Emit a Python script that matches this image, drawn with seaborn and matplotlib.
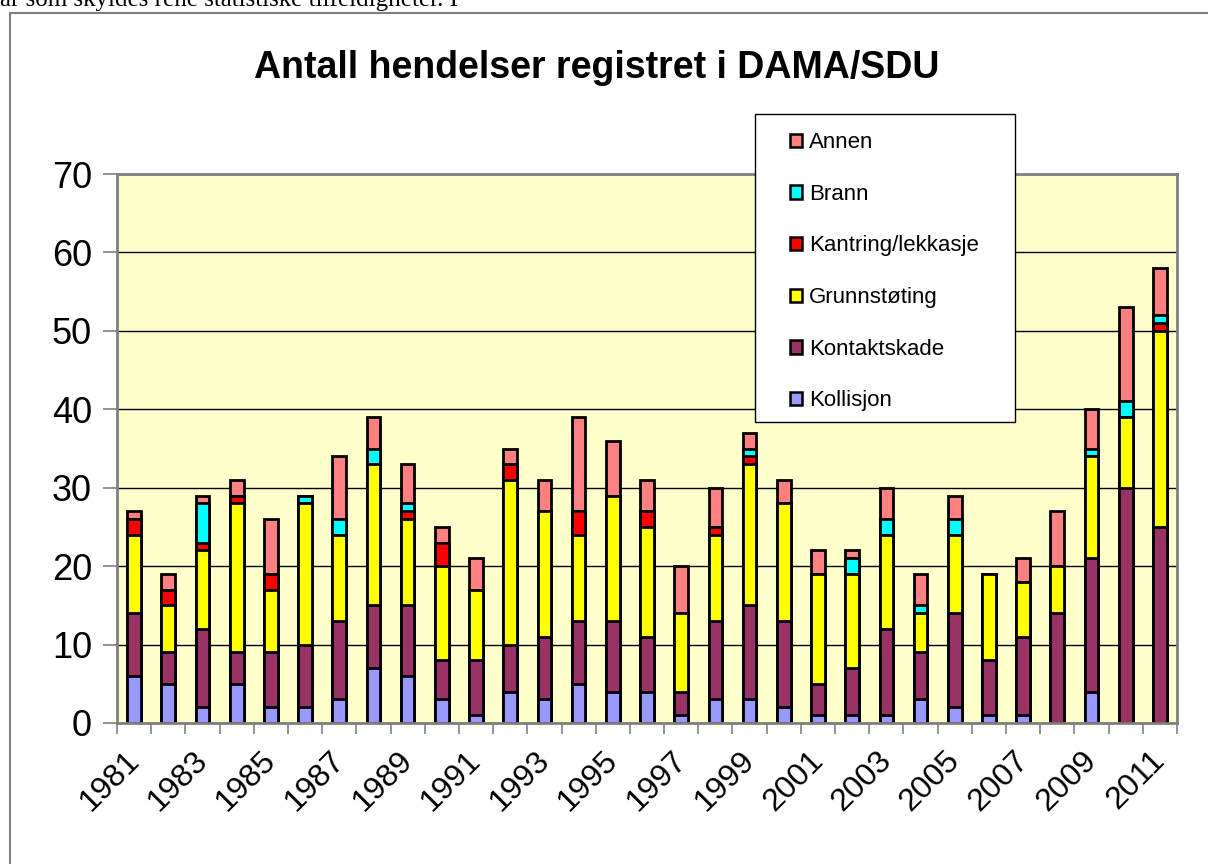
import numpy as np
import pandas as pd
import matplotlib
matplotlib.use("Agg")
import matplotlib.pyplot as plt
from matplotlib.patches import Patch, Rectangle
from matplotlib.transforms import ScaledTranslation
import seaborn as sns

years = [str(y) for y in range(1981, 2012)]

kollisjon = [6, 5, 2, 5, 2, 2, 3, 7, 6, 3, 1, 4, 3, 5, 4, 4, 1, 3, 3, 2, 1, 1, 1, 3, 2, 1, 1, 0, 4, 0, 0]
kontaktskade = [8, 4, 10, 4, 7, 8, 10, 8, 9, 5, 7, 6, 8, 8, 9, 7, 3, 10, 12, 11, 4, 6, 11, 6, 12, 7, 10, 14, 17, 30, 25]
grunnstoting = [10, 6, 10, 19, 8, 18, 11, 18, 11, 12, 9, 21, 16, 11, 16, 14, 10, 11, 18, 15, 14, 12, 12, 5, 10, 11, 7, 6, 13, 9, 25]
kantring = [2, 2, 1, 1, 2, 0, 0, 0, 1, 3, 0, 2, 0, 3, 0, 2, 0, 1, 1, 0, 0, 0, 0, 0, 0, 0, 0, 0, 0, 0, 1]
brann = [0, 0, 5, 0, 0, 1, 2, 2, 1, 0, 0, 0, 0, 0, 0, 0, 0, 0, 1, 0, 0, 2, 2, 1, 2, 0, 0, 0, 1, 2, 1]
annen = [1, 2, 1, 2, 7, 0, 8, 4, 5, 2, 4, 2, 4, 12, 7, 4, 6, 5, 2, 3, 3, 1, 4, 4, 3, 0, 3, 7, 5, 12, 6]

series = ["Kollisjon", "Kontaktskade", "Grunnstøting", "Kantring/lekkasje", "Brann", "Annen"]
colors = ["#9999FF", "#993366", "#FFFF00", "#FF0000", "#00FFFF", "#FF8080"]

df = pd.DataFrame({
    "Kollisjon": kollisjon,
    "Kontaktskade": kontaktskade,
    "Grunnstøting": grunnstoting,
    "Kantring/lekkasje": kantring,
    "Brann": brann,
    "Annen": annen,
}, index=years)
cum = df[series].cumsum(axis=1)

sns.set_style("white")
plt.rcParams["font.family"] = ["Liberation Sans", "DejaVu Sans"]
plt.rcParams["text.color"] = "black"

fig = plt.figure(figsize=(12.08, 8.64), dpi=100)
ax = fig.add_axes([117 / 1208, 1 - 723 / 864, 1060 / 1208, 549 / 864])
ax.set_facecolor("#FFFFCC")

# stacked look: draw cumulative totals from the top layer down
for name, col in zip(series[::-1], colors[::-1]):
    sns.barplot(x=years, y=cum[name].values, color=col, saturation=1, width=0.4,
                edgecolor="black", linewidth=2, errorbar=None, ax=ax)

ax.set_xlim(-0.5, 30.5)
ax.set_ylim(0, 70)
ax.set_yticks(range(0, 71, 10))
ax.set_axisbelow(True)
ax.yaxis.grid(True, color="black", linewidth=1)
ax.xaxis.grid(False)
ax.set_xlabel("")
ax.set_ylabel("")

ax.set_xticks(range(0, 31, 2))
ax.set_xticklabels(years[::2], rotation=45, ha="right", rotation_mode="anchor", fontsize=23)
ax.set_xticks(np.arange(-0.5, 31, 1), minor=True)
ax.tick_params(axis="x", which="major", length=0, pad=16, labelcolor="black")
ax.tick_params(axis="x", which="minor", length=8, width=1.2, color="#808080", direction="out")
ax.tick_params(axis="y", length=10, width=1.2, color="#808080", direction="out", labelsize=26,
               pad=8, labelcolor="black")
ax.tick_params(bottom=True, left=True, which="both")
shift = ScaledTranslation(-10 / 100, 0, fig.dpi_scale_trans)
for lab in ax.get_xticklabels():
    lab.set_transform(lab.get_transform() + shift)

for s in ["left", "bottom", "top", "right"]:
    ax.spines[s].set_color("#808080")
    ax.spines[s].set_linewidth(2)

# outer chart frame
fig.patches.append(Rectangle((10 / 1208, -0.1), 1.2, 1 - 13 / 864 + 0.1, transform=fig.transFigure,
                             facecolor="none", edgecolor="#808080", linewidth=1.5))

fig.text(0, 1 - 6 / 864, "år som skyldes rene statistiske tilfeldigheter. I", family="Liberation Serif",
         fontsize=18, va="baseline", ha="left")

fig.text(597 / 1208, 1 - 68 / 864, "Antall hendelser registret i DAMA/SDU", fontsize=27,
         fontweight="bold", ha="center", va="center")

# legend frame drawn separately
fig.patches.append(Rectangle((755 / 1208, 1 - 422 / 864), 260 / 1208, 308 / 864, transform=fig.transFigure,
                             facecolor="white", edgecolor="black", linewidth=1, zorder=5))
handles = [Patch(facecolor=c, edgecolor="black", linewidth=1.8) for c in colors[::-1]]
leg = fig.legend(handles, series[::-1], loc="upper left", bbox_to_anchor=(779 / 1208, 1 - 121 / 864),
                 frameon=False, borderpad=0, fontsize=16, handlelength=0.55, handleheight=0.55,
                 handletextpad=0.3, labelspacing=1.38)
leg.set_zorder(6)

fig.savefig("out.png", dpi=100)
